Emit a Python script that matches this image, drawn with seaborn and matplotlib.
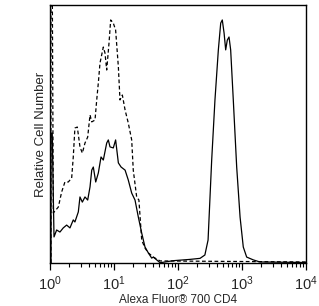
import numpy as np
import pandas as pd
import matplotlib
matplotlib.use("Agg")
import matplotlib.pyplot as plt
import seaborn as sns

# CD4 stained cells (solid)
cd4_fl = [1.035, 1.035, 1.084, 1.155, 1.27, 1.43, 1.61, 1.82, 2.05, 2.31, 2.45, 2.77,
          2.94, 3.20, 3.52, 3.88, 4.22, 4.49, 4.75, 5.18, 5.69, 6.27, 6.81, 7.69, 8.15,
          8.66, 9.75, 10.6, 11.7, 12.9, 14.9, 16.7, 18.9, 21.3, 24.0, 27.1, 30.5, 34.4,
          38.8, 41.1, 52.5, 84.5, 154, 221, 263, 295, 336, 378, 427, 465, 492, 525, 556,
          589, 627, 665, 731, 826, 933, 1047, 1183, 1503, 1905, 10000]
cd4_count = [0, 50.4, 50.4, 10.1, 12.8, 12.0, 13.6, 14.7, 13.6, 16.7, 15.9, 19.8,
             25.6, 23.6, 25.6, 24.4, 29.5, 36.0, 37.2, 31.4, 34.9, 41.1, 39.9, 46.5, 47.7,
             45.0, 44.6, 47.7, 38.8, 37.2, 36.0, 32.2, 27.1, 24.4, 17.8, 11.6, 6.2, 3.9,
             1.9, 2.3, 0.1, 0.9, 1.4, 1.8, 3.1, 8.9, 39.9, 63.2, 82.6, 93.0, 94.2, 89.1, 82.6,
             86.4, 87.6, 82.6, 63.2, 37.2, 17.8, 6.2, 2.3, 1.2, 0.4, 0.2]

# isotype control (dashed)
ctrl_fl = [1.035, 1.035, 1.084, 1.127, 1.35, 1.52, 1.71, 1.93, 2.18, 2.31, 2.45, 2.67,
           2.94, 3.20, 3.52, 3.88, 4.22, 4.49, 5.05, 5.37, 5.69, 6.04, 6.81, 7.23, 7.69,
           8.36, 8.87, 9.75, 10.6, 11.7, 12.4, 13.5, 14.9, 16.7, 18.9, 20.0, 22.6, 24.5,
           27.1, 30.5, 34.4, 41.1, 52.5, 10000]
ctrl_count = [0, 110, 110, 19.4, 21.7, 27.5, 31.4, 31.4, 32.9, 41.1, 52.3, 52.7, 45.0,
              42.6, 46.5, 48.8, 57.4, 54.7, 55.4, 63.2, 69.8, 77.5, 83.7, 81.4, 74.8, 85.3,
              94.2, 93.0, 90.3, 76.0, 63.2, 65.1, 59.3, 54.3, 47.7, 36.0, 25.6, 24.4, 8.9,
              5.8, 3.9, 2.3, 0.8, 0.4]

sns.set_style("ticks")
plt.rcParams["font.family"] = ["Liberation Sans", "DejaVu Sans"]
plt.rcParams["mathtext.fontset"] = "custom"
plt.rcParams["mathtext.rm"] = "Liberation Sans"
plt.rcParams["mathtext.it"] = "Liberation Sans"
plt.rcParams["mathtext.bf"] = "Liberation Sans"

fig = plt.figure(figsize=(3.19, 3.06), dpi=100)
ax = fig.add_axes([50 / 319, 43 / 306, 256 / 319, 258 / 306])

df_cd4 = pd.DataFrame({"fl": cd4_fl, "count": cd4_count})
df_ctrl = pd.DataFrame({"fl": ctrl_fl, "count": ctrl_count})

sns.lineplot(data=df_ctrl, x="fl", y="count", ax=ax, sort=False, estimator=None,
             color="black", lw=0.9, linestyle=(0, (3, 2)))
sns.lineplot(data=df_cd4, x="fl", y="count", ax=ax, sort=False, estimator=None,
             color="black", lw=0.9)

ax.set_xscale("log")
ax.set_xlim(1, 10000)
ax.set_ylim(0, 100)
ax.set_yticks([])
ax.set_xticks([1, 10, 100, 1000, 10000])
ax.set_xticklabels([r"$10^{0}$", r"$10^{1}$", r"$10^{2}$", r"$10^{3}$", r"$10^{4}$"])
ax.tick_params(axis="x", which="major", length=5, width=0.9, direction="out",
               labelsize=10.5, pad=3, color="black")
ax.tick_params(axis="x", which="minor", length=3, width=0.8, direction="out", color="black")
ax.set_xlabel("Alexa Fluor\u00ae 700 CD4", fontsize=8.5, labelpad=1)
ax.set_ylabel("Relative Cell Number", fontsize=9.5, labelpad=2)
for s in ax.spines.values():
    s.set_visible(True)
    s.set_color("black")
    s.set_linewidth(1.0)

fig.savefig("out.png", dpi=100)
